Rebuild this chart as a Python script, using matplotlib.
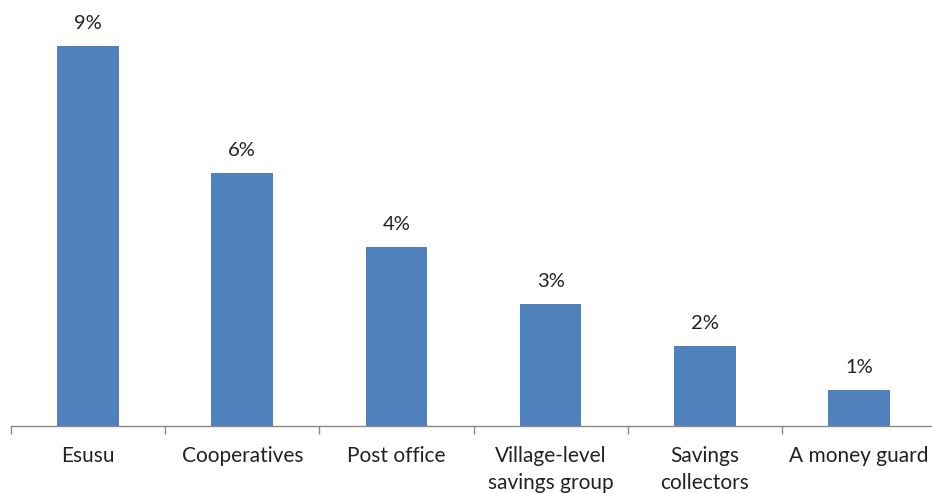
import numpy as np
import matplotlib.pyplot as plt

plt.rcParams['font.family'] = ['Lato', 'DejaVu Sans']

# informal savings channels, share of respondents
channels = ['Esusu', 'Cooperatives', 'Post office', 'Village-level\nsavings group',
            'Savings\ncollectors', 'A money guard']
shares = [9.0, 6.0, 4.25, 2.9, 1.9, 0.85]

fig = plt.figure(figsize=(9.32, 4.93), dpi=100)
ax = fig.add_axes([11/932, 1 - 426/493, 925/932, 422/493])

x = np.arange(len(channels))
bars = ax.bar(x, shares, width=0.4, color='#4F81BD', zorder=2)

for b, v in zip(bars, shares):
    ax.annotate('%.0f%%' % v, (b.get_x() + b.get_width() / 2, v),
                xytext=(0, 16), textcoords='offset points',
                ha='center', va='center', fontsize=14.5, color='#222222')

ax.set_xlim(-0.5, len(channels) - 0.5)
ax.set_ylim(0, 10)

for s in ['top', 'right', 'left']:
    ax.spines[s].set_visible(False)
ax.spines['bottom'].set_color('#888888')
ax.spines['bottom'].set_linewidth(1.0)

ax.set_yticks([])
ax.set_xticks(x)
ax.set_xticklabels(channels, fontsize=15, color='#222222', linespacing=1.45)
ax.tick_params(axis='x', which='major', length=0, pad=14.5)
ax.set_xticks(np.arange(len(channels) + 1) - 0.5, minor=True)
ax.tick_params(axis='x', which='minor', length=6, color='#888888', width=1.0)

fig.savefig('out.png', dpi=100)
